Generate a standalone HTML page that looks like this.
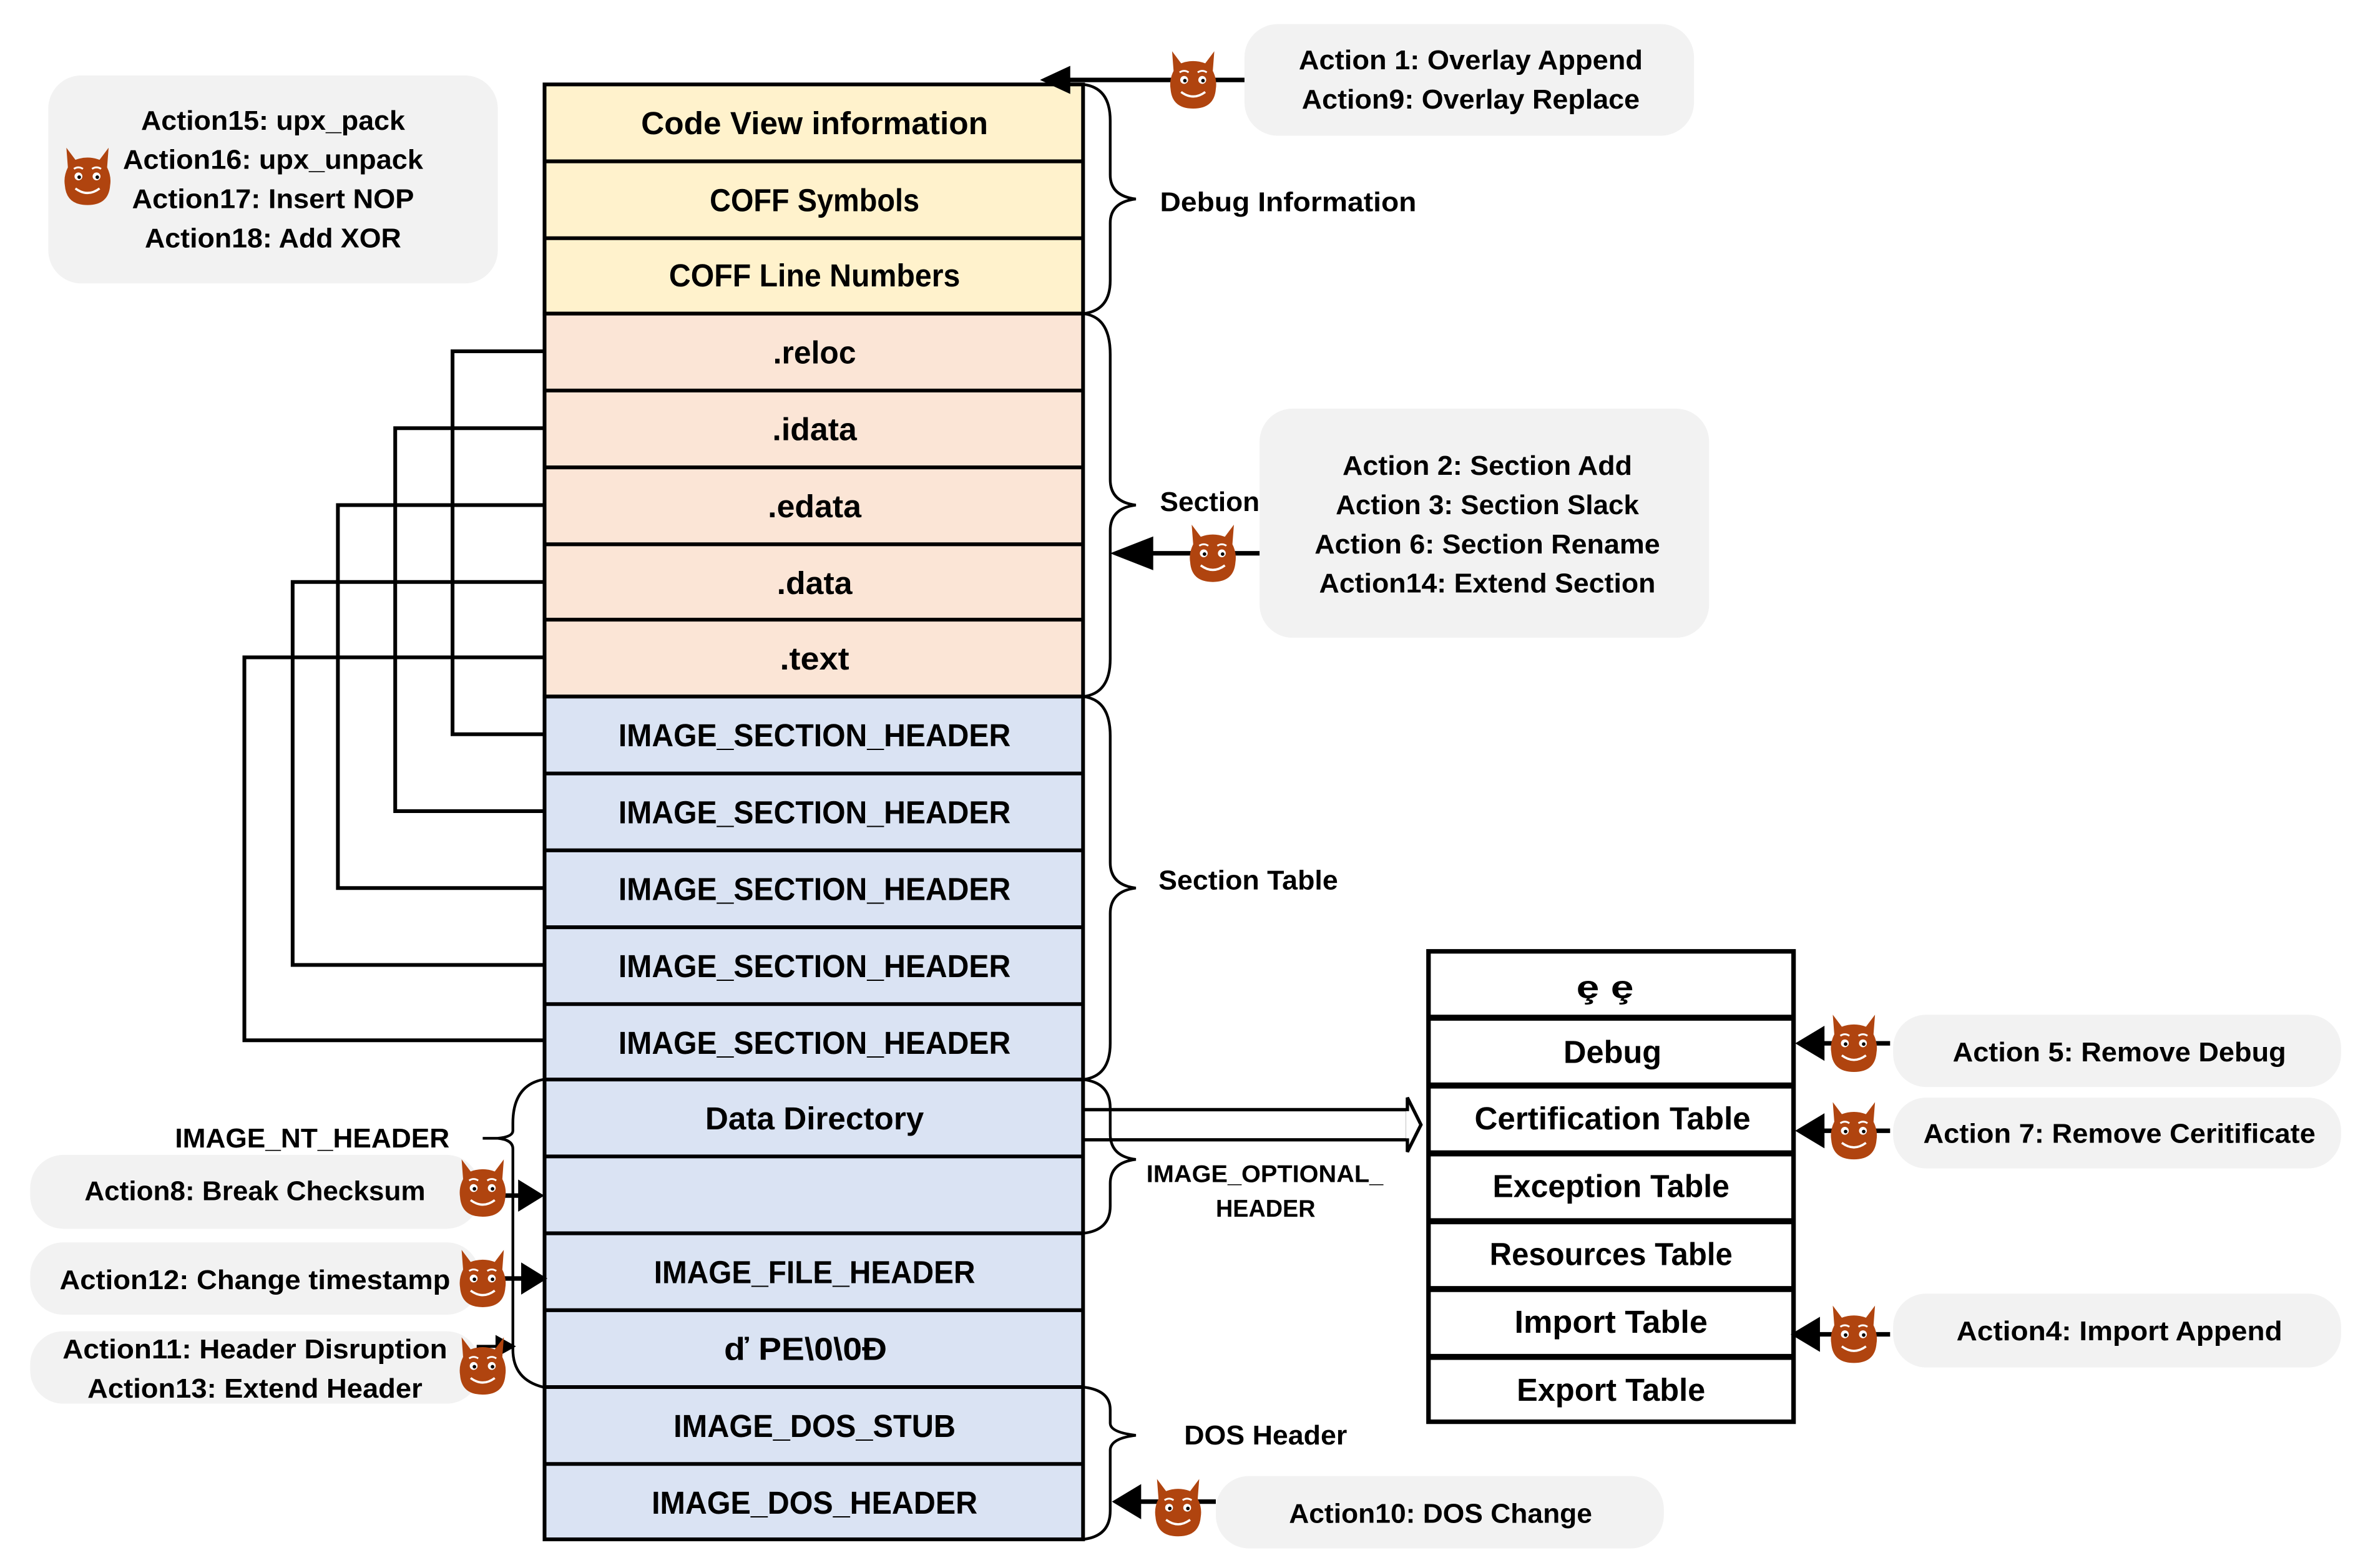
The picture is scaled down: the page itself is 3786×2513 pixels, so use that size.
<!DOCTYPE html>
<html><head><meta charset="utf-8"><style>
html,body{margin:0;padding:0;background:#fff}
svg{display:block}
text{font-family:"Liberation Sans",sans-serif;font-weight:bold;fill:#000}
</style></head><body>
<svg width="3786" height="2513" viewBox="0 0 1566.5 1040" preserveAspectRatio="none" xmlns="http://www.w3.org/2000/svg">
<defs>
<g id="dv">
<path d="M-13,-6 L-14,-19 L-8,-11 Q0,-14 8,-11 L14,-19 L13,-6 Q16,0 15,6 Q14,19 0,19 Q-14,19 -15,6 Q-16,0 -13,-6Z" fill="#b0440f"/>
<circle cx="-6" cy="0" r="2.6" fill="#fff"/><circle cx="6" cy="0" r="2.6" fill="#fff"/>
<circle cx="-5.5" cy="0.5" r="1.2" fill="#000"/><circle cx="6.5" cy="0.5" r="1.2" fill="#000"/>
<path d="M-9,-5 Q-6,-7 -3,-5 M9,-5 Q6,-7 3,-5" stroke="#fff" stroke-width="1.2" fill="none"/>
<path d="M-8,8 Q0,14 8,8" stroke="#fff" stroke-width="1.5" fill="none"/>
</g>
</defs>

<g fill="#f2f2f2">
<rect x="32" y="50" width="298" height="138" rx="22"/>
<rect x="825" y="16" width="298" height="74" rx="22"/>
<rect x="835" y="271" width="298" height="152" rx="22"/>
<rect x="1255" y="673" width="297" height="48" rx="22"/>
<rect x="1255" y="728" width="297" height="47" rx="22"/>
<rect x="1255" y="858" width="297" height="49" rx="22"/>
<rect x="806" y="979" width="297" height="48" rx="22"/>
<rect x="20" y="766" width="298" height="49" rx="22"/>
<rect x="20" y="824" width="298" height="48" rx="22"/>
<rect x="20" y="883" width="298" height="48" rx="22"/>
</g>

<g stroke="#000" stroke-width="2.5">
<rect x="361" y="56" width="357" height="152" fill="#fff2cc"/>
<rect x="361" y="208" width="357" height="254" fill="#fbe5d6"/>
<rect x="361" y="462" width="357" height="559" fill="#dae3f3"/>
<path d="M361,107H718M361,158H718M361,259H718M361,310H718M361,361H718M361,411H718M361,513H718M361,564H718M361,615H718M361,666H718M361,716H718M361,767H718M361,818H718M361,869H718M361,920H718M361,971H718"/>
</g>

<g stroke="#000" stroke-width="2.5" fill="none">
<path d="M361,233H300V487H361"/>
<path d="M361,284H262V538H361"/>
<path d="M361,335H224V589H361"/>
<path d="M361,386H194V640H361"/>
<path d="M361,436H162V690H361"/>
</g>

<g stroke="#000" stroke-width="1.8" fill="none">
<path d="M718,56 Q736,58 736,80 V116 Q736,130 753,132 Q736,134 736,148 V186 Q736,206 718,208"/>
<path d="M718,208 Q736,210 736,235 V318 Q736,333 753,335 Q736,337 736,352 V437 Q736,460 718,462"/>
<path d="M718,462 Q736,464 736,488 V572 Q736,587 753,589 Q736,591 736,606 V692 Q736,714 718,716"/>
<path d="M718,716 Q736,718 736,735 V752 Q736,767 753,769 Q736,771 736,785 V800 Q736,816 718,818"/>
<path d="M718,920 Q736,922 736,935 V944 Q736,950 753,952 Q736,954 736,962 V1002 Q736,1019 718,1021"/>
<path d="M360,716 Q340,720 340,745 V750 Q340,754 330,755 Q340,756 340,762 V895 Q340,915 360,920"/>
<path d="M320,755H330"/>
</g>

<g stroke="#000" stroke-width="2.2" fill="none">
<path d="M718,736H933M718,756H933M933,728 L942,746 L933,764Z"/>
</g>
<rect x="932" y="737" width="3" height="18" fill="#fff"/>

<g stroke="#000" stroke-width="3" fill="#fff">
<rect x="947" y="631" width="242" height="312"/>
<path d="M947,675H1189M947,720H1189M947,765H1189M947,810H1189M947,855H1189M947,900H1189" stroke-width="4"/>
</g>

<g stroke="#000" stroke-width="3" fill="#000">
<path d="M825,53H705" /><path d="M693,53 L708,46 L708,60Z"/>
<path d="M835,367H760"/><path d="M740,367 L763,358 L763,376Z"/>
<path d="M1253,692H1205"/><path d="M1193,692 L1208,683 L1208,701Z"/>
<path d="M1253,750H1205"/><path d="M1193,750 L1208,741 L1208,759Z"/>
<path d="M1253,885H1203"/><path d="M1190,885 L1205,876 L1205,894Z"/>
<path d="M806,996H752"/><path d="M740,996 L755,987 L755,1005Z"/>
<path d="M330,793H347"/><path d="M358,793 L345,785 L345,801Z"/>
<path d="M330,848H348"/><path d="M360,848 L347,840 L347,856Z"/>
<path d="M316,893H332" stroke-width="2"/><path d="M339,893 L330,888 L330,898Z"/>
</g>

<use href="#dv" x="58" y="117"/>
<use href="#dv" x="791" y="53"/>
<use href="#dv" x="804" y="367"/>
<use href="#dv" x="1229" y="692"/>
<use href="#dv" x="1229" y="750"/>
<use href="#dv" x="1229" y="885"/>
<use href="#dv" x="781" y="1000"/>
<use href="#dv" x="320" y="788"/>
<use href="#dv" x="320" y="848"/>
<use href="#dv" x="320" y="906"/>

<g font-size="21" text-anchor="middle">
<text x="540" y="89" textLength="230" lengthAdjust="spacingAndGlyphs">Code View information</text>
<text x="540" y="140" textLength="139" lengthAdjust="spacingAndGlyphs">COFF Symbols</text>
<text x="540" y="190" textLength="193" lengthAdjust="spacingAndGlyphs">COFF Line Numbers</text>
<text x="540" y="241" textLength="55" lengthAdjust="spacingAndGlyphs">.reloc</text>
<text x="540" y="292" textLength="56" lengthAdjust="spacingAndGlyphs">.idata</text>
<text x="540" y="343" textLength="62" lengthAdjust="spacingAndGlyphs">.edata</text>
<text x="540" y="394" textLength="50" lengthAdjust="spacingAndGlyphs">.data</text>
<text x="540" y="444" textLength="46" lengthAdjust="spacingAndGlyphs">.text</text>
<text x="540" y="495" textLength="260" lengthAdjust="spacingAndGlyphs">IMAGE_SECTION_HEADER</text>
<text x="540" y="546" textLength="260" lengthAdjust="spacingAndGlyphs">IMAGE_SECTION_HEADER</text>
<text x="540" y="597" textLength="260" lengthAdjust="spacingAndGlyphs">IMAGE_SECTION_HEADER</text>
<text x="540" y="648" textLength="260" lengthAdjust="spacingAndGlyphs">IMAGE_SECTION_HEADER</text>
<text x="540" y="699" textLength="260" lengthAdjust="spacingAndGlyphs">IMAGE_SECTION_HEADER</text>
<text x="540" y="749" textLength="145" lengthAdjust="spacingAndGlyphs">Data Directory</text>
<text x="540" y="851" textLength="213" lengthAdjust="spacingAndGlyphs">IMAGE_FILE_HEADER</text>
<text x="534" y="902" textLength="108" lengthAdjust="spacingAndGlyphs">ď PE\0\0Đ</text>
<text x="540" y="953" textLength="187" lengthAdjust="spacingAndGlyphs">IMAGE_DOS_STUB</text>
<text x="540" y="1004" textLength="216" lengthAdjust="spacingAndGlyphs">IMAGE_DOS_HEADER</text>
<text x="1064" y="662" font-weight="normal" textLength="38" lengthAdjust="spacingAndGlyphs">ȩ ȩ</text>
<text x="1069" y="705" textLength="65" lengthAdjust="spacingAndGlyphs">Debug</text>
<text x="1069" y="749" textLength="183" lengthAdjust="spacingAndGlyphs">Certification Table</text>
<text x="1068" y="794" textLength="157" lengthAdjust="spacingAndGlyphs">Exception Table</text>
<text x="1068" y="839" textLength="161" lengthAdjust="spacingAndGlyphs">Resources Table</text>
<text x="1068" y="884" textLength="128" lengthAdjust="spacingAndGlyphs">Import Table</text>
<text x="1068" y="929" textLength="125" lengthAdjust="spacingAndGlyphs">Export Table</text>
</g>

<g font-size="18">
<text x="769" y="140" textLength="170" lengthAdjust="spacingAndGlyphs">Debug Information</text>
<text x="769" y="339" textLength="66" lengthAdjust="spacingAndGlyphs">Section</text>
<text x="768" y="590" textLength="119" lengthAdjust="spacingAndGlyphs">Section Table</text>
<text x="785" y="958" textLength="108" lengthAdjust="spacingAndGlyphs">DOS Header</text>
<text x="116" y="761" font-weight="normal" textLength="182" lengthAdjust="spacingAndGlyphs">IMAGE_NT_HEADER</text>
<text x="760" y="784" font-size="16" textLength="157" lengthAdjust="spacingAndGlyphs">IMAGE_OPTIONAL_</text>
<text x="806" y="807" font-size="16" textLength="66" lengthAdjust="spacingAndGlyphs">HEADER</text>
</g>

<g font-size="18" text-anchor="middle">
<text x="181" y="86" textLength="175" lengthAdjust="spacingAndGlyphs">Action15: upx_pack</text>
<text x="181" y="112" textLength="199" lengthAdjust="spacingAndGlyphs">Action16: upx_unpack</text>
<text x="181" y="138" textLength="187" lengthAdjust="spacingAndGlyphs">Action17: Insert NOP</text>
<text x="181" y="164" textLength="170" lengthAdjust="spacingAndGlyphs">Action18: Add XOR</text>
<text x="975" y="46" textLength="228" lengthAdjust="spacingAndGlyphs">Action 1: Overlay Append</text>
<text x="975" y="72" textLength="224" lengthAdjust="spacingAndGlyphs">Action9: Overlay Replace</text>
<text x="986" y="315" textLength="192" lengthAdjust="spacingAndGlyphs">Action 2: Section Add</text>
<text x="986" y="341" textLength="201" lengthAdjust="spacingAndGlyphs">Action 3: Section Slack</text>
<text x="986" y="367" textLength="229" lengthAdjust="spacingAndGlyphs">Action 6: Section Rename</text>
<text x="986" y="393" textLength="223" lengthAdjust="spacingAndGlyphs">Action14: Extend Section</text>
<text x="1405" y="704" textLength="221" lengthAdjust="spacingAndGlyphs">Action 5: Remove Debug</text>
<text x="1405" y="758" textLength="260" lengthAdjust="spacingAndGlyphs">Action 7: Remove Ceritificate</text>
<text x="1405" y="889" textLength="216" lengthAdjust="spacingAndGlyphs">Action4: Import Append</text>
<text x="955" y="1010" textLength="201" lengthAdjust="spacingAndGlyphs">Action10: DOS Change</text>
<text x="169" y="796" textLength="226" lengthAdjust="spacingAndGlyphs">Action8: Break Checksum</text>
<text x="169" y="855" textLength="259" lengthAdjust="spacingAndGlyphs">Action12: Change timestamp</text>
<text x="169" y="901" textLength="255" lengthAdjust="spacingAndGlyphs">Action11: Header Disruption</text>
<text x="169" y="927" textLength="222" lengthAdjust="spacingAndGlyphs">Action13: Extend Header</text>
</g>
</svg>
</body></html>
